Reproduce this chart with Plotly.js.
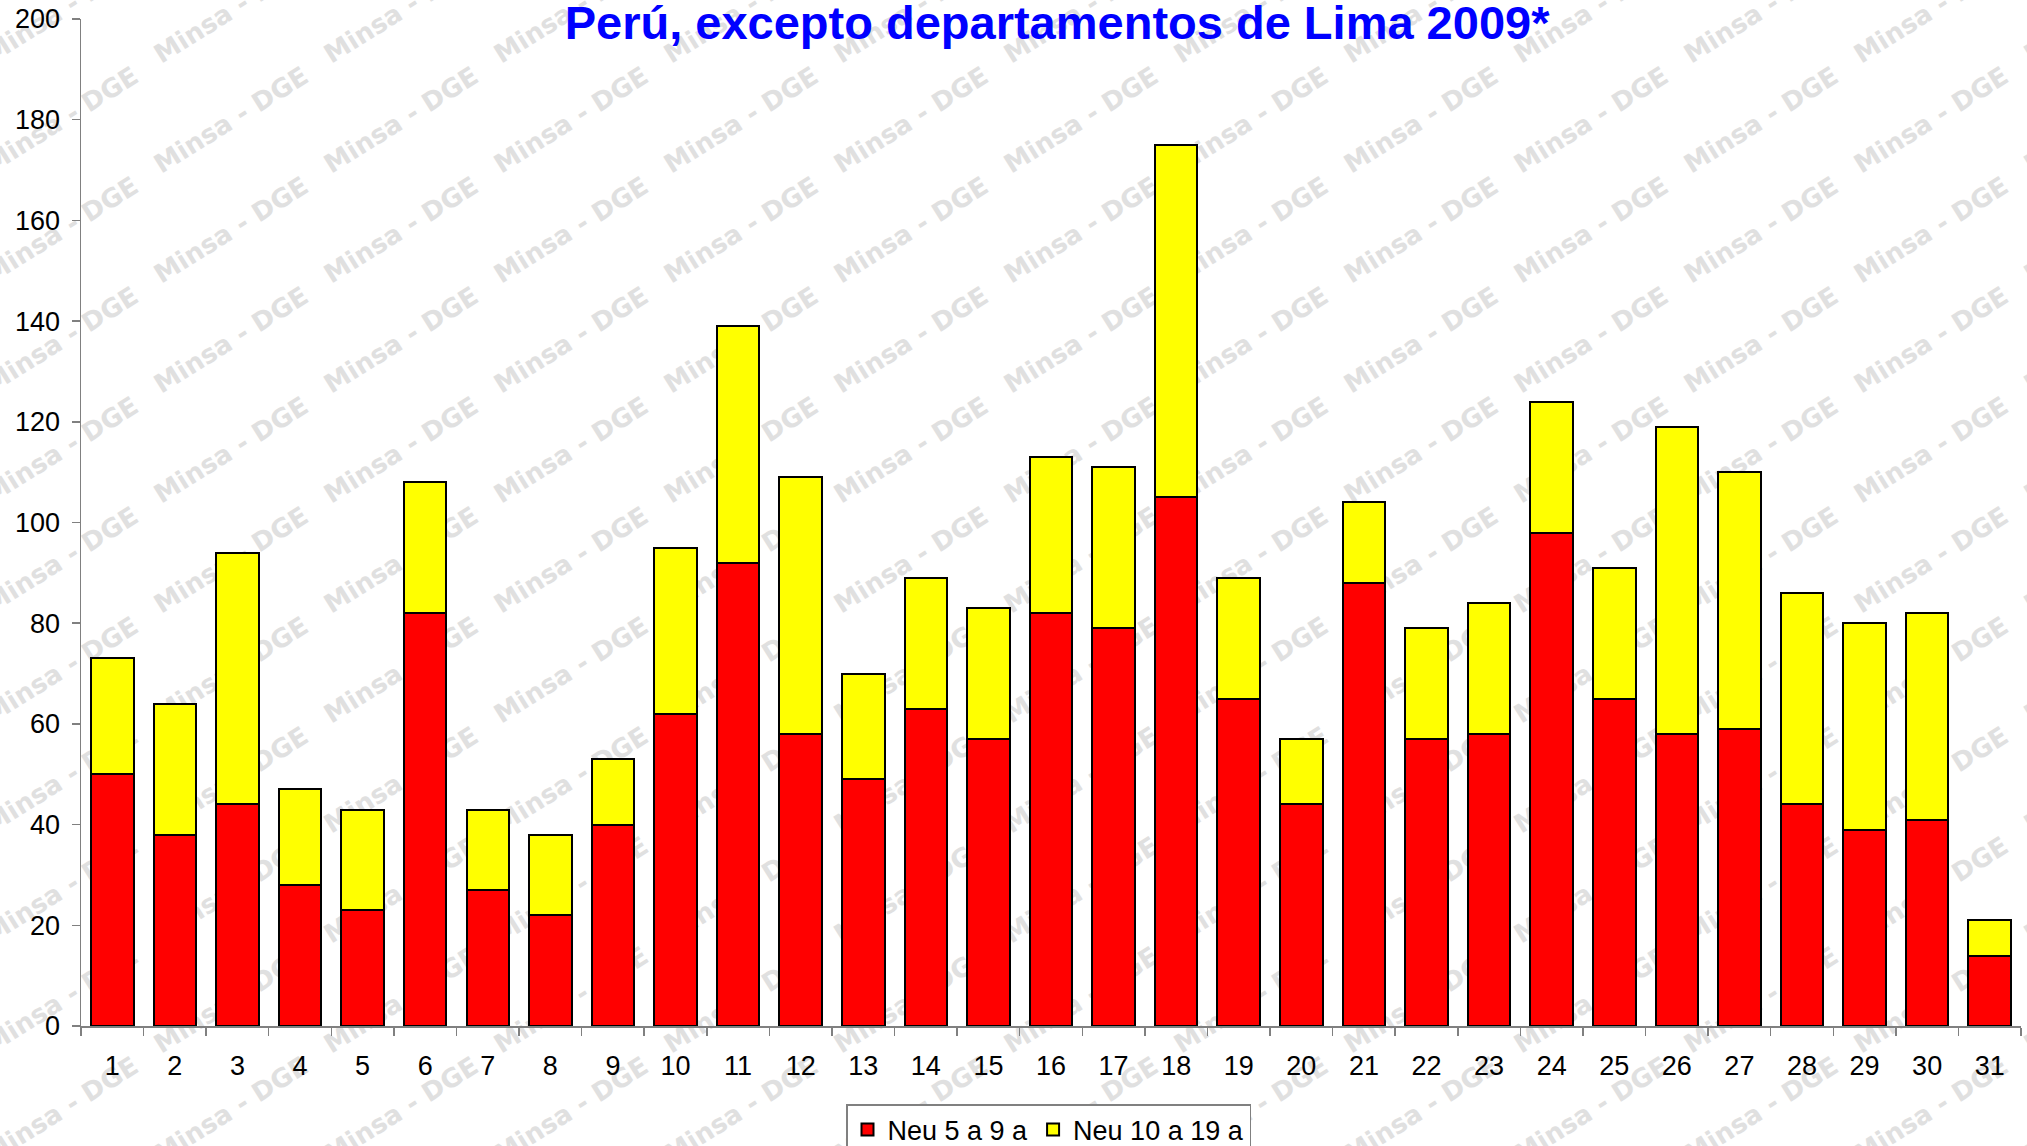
<!DOCTYPE html>
<html>
<head>
<meta charset="utf-8">
<script src="https://cdn.plot.ly/plotly-3.0.1.min.js"></script>
<style>
html,body{margin:0;padding:0;background:#fff;}
#chart{width:2027px;height:1146px;}
</style>
</head>
<body>
<div id="chart"></div>
<script>
// ---- data ----
var categories = ["1","2","3","4","5","6","7","8","9","10","11","12","13","14","15","16","17","18","19","20","21","22","23","24","25","26","27","28","29","30","31"];
var neu5a9 = [50,38,44,28,23,82,27,22,40,62,92,58,49,63,57,82,79,105,65,44,88,57,58,98,65,58,59,44,39,41,14];
var neu10a19 = [23,26,50,19,20,26,16,16,13,33,47,51,21,26,26,31,32,70,24,13,16,22,26,26,26,61,51,42,41,41,7];
var seriesNames = ["Neu 5 a 9 a", "Neu 10 a 19 a"];
var titleText = "Perú, excepto departamentos de Lima 2009*";
var watermarkText = "Minsa - DGE";
var yTicks = [0,20,40,60,80,100,120,140,160,180,200];

// ---- layout geometry (pixels) ----
var W = 2027, H = 1146;
var M = {l:81, r:6, t:19, b:120, autoexpand:false};
var plotW = W - M.l - M.r, plotH = H - M.t - M.b;
var FONT = "Liberation Sans, Arial, sans-serif";

var traces = [
  {type:'bar', name:seriesNames[0], x:categories, y:neu5a9,
   marker:{color:'#FF0000', line:{color:'#000000', width:2}}},
  {type:'bar', name:seriesNames[1], x:categories, y:neu10a19,
   marker:{color:'#FFFF00', line:{color:'#000000', width:2}}}
];

// watermark: repeating rotated text behind the bars
var shapes = [];
for (var k = -2; k <= 11; k++) {
  for (var m = -2; m <= 10; m++) {
    var cx = 230 + 170*k, cy = 118 + 110*m;
    var xp = (cx - M.l)/plotW, yp = (H - M.b - cy)/plotH;
    shapes.push({type:'rect', xref:'paper', yref:'paper', layer:'below',
      x0:xp-0.0005, x1:xp+0.0005, y0:yp-0.0005, y1:yp+0.0005,
      line:{width:0}, fillcolor:'rgba(0,0,0,0)',
      label:{text:watermarkText, textangle:-32, textposition:'middle center', padding:0,
        font:{family:'DejaVu Sans, sans-serif', size:26, weight:'bold', color:'rgb(224,224,224)'}}});
  }
}

var layout = {
  width:W, height:H,
  margin:M,
  paper_bgcolor:'#ffffff',
  plot_bgcolor:'rgba(0,0,0,0)',
  barmode:'stack',
  bargap:0.32,
  showlegend:true,
  title:{text:titleText, xref:'container', yref:'container', x:0.5215, y:0.980,
    xanchor:'center', yanchor:'middle',
    font:{family:FONT, size:47, color:'#0000FF', weight:'bold'}},
  xaxis:{type:'category', showline:true, linecolor:'#808080', linewidth:1.5,
    ticks:'outside', tickson:'boundaries', ticklen:8, tickcolor:'#808080', tickwidth:1.5,
    showgrid:false, zeroline:false, ticklabelstandoff:15,
    tickfont:{family:FONT, size:27, color:'#000000'}},
  yaxis:{range:[0,200], tickvals:yTicks, showline:true, linecolor:'#808080', linewidth:1.5,
    ticks:'outside', ticklen:8, tickcolor:'#808080', tickwidth:1.5,
    showgrid:false, zeroline:false, ticklabelstandoff:6,
    tickfont:{family:FONT, size:27, color:'#000000'}},
  legend:{orientation:'h', x:(846 - M.l)/plotW, y:-(1104 - (H - M.b))/plotH, xanchor:'left', yanchor:'top',
    bordercolor:'#808080', borderwidth:1.5, bgcolor:'#ffffff', traceorder:'normal',
    font:{family:FONT, size:27, color:'#000000'}},
  shapes:shapes
};

Plotly.newPlot('chart', traces, layout, {displayModeBar:false, staticPlot:true});
</script>
</body>
</html>
